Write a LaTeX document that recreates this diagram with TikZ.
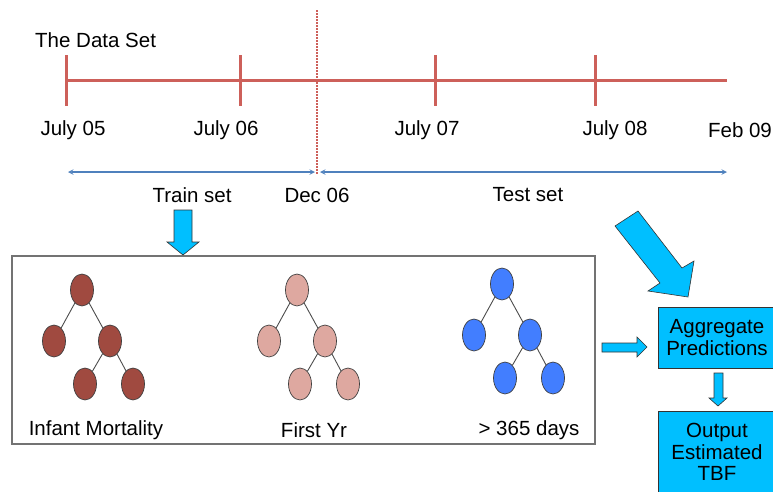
\documentclass[tikz,border=0pt]{standalone}
\usepackage{fontspec}
\setmainfont{Liberation Sans}
\usetikzlibrary{shapes.geometric}

\definecolor{tlred}{RGB}{205,96,90}
\definecolor{spanblue}{RGB}{79,129,189}
\definecolor{boxcyan}{RGB}{0,191,255}
\definecolor{treeA}{RGB}{160,74,64}
\definecolor{treeB}{RGB}{222,168,160}
\definecolor{treeC}{RGB}{66,126,255}

\begin{document}
\begin{tikzpicture}[x=1pt,y=-1pt,>=stealth,font=\fontsize{20.5}{21.5}\selectfont,
  every node/.style={inner sep=0pt},
  timeline/.style={tlred,line width=3pt},
  span/.style={spanblue,line width=1.4pt,<->},
  leaf/.style={ellipse,draw=black!75,line width=0.7pt,minimum width=23,minimum height=32},
  edge/.style={black!70,line width=0.9pt},
  blockarr/.style={fill=boxcyan,draw=black!80,line width=0.6pt},
  outbox/.style={fill=boxcyan,draw=black!80,line width=0.8pt,align=center,minimum width=118}]
\useasboundingbox (0,0) rectangle (773,491);

% time axis with year ticks
\coordinate (t0) at (66,80); \coordinate (t1) at (240,80); \coordinate (t2) at (435,80);
\coordinate (t3) at (595,80); \coordinate (tend) at (727,80);
\draw[timeline] (t0) -- (tend);
\foreach \t in {t0,t1,t2,t3} \draw[timeline] ([yshift=25pt]\t) -- ([yshift=-26pt]\t);
\coordinate (cut) at (317,10); \coordinate (cutb) at (317,174);
\draw[tlred,line width=1.3pt,dash pattern=on 1.5pt off 1.5pt] (cut) -- (cutb);

\node[anchor=west] (title) at (35,40) {The Data Set};
\node (d0) at (73,130) {July 05}; \node (d1) at (226,130) {July 06};
\node (d2) at (427,130) {July 07}; \node (d3) at (615,130) {July 08};
\node (d4) at (740,130) {Feb 09};

% train / test split
\coordinate (s0) at (68,172); \coordinate (s1) at (315,172);
\coordinate (s2) at (320,172); \coordinate (s3) at (727,172);
\draw[span] (s0) -- (s1);
\draw[span] (s2) -- (s3);
\node (train) at (192,195) {Train set}; \node (dec) at (317,195) {Dec 06};
\node (test) at (528,195) {Test set};

% the three models
\node[draw=black!55,line width=1.2pt,minimum width=583,minimum height=188] (models) at (303.5,350) {};
\foreach \n/\x/\y/\c in {a/82/290/treeA,b/297/290/treeB,c/502/284/treeC}{
  \node[leaf,fill=\c] (\n0) at (\x,\y) {};
  \node[leaf,fill=\c] (\n1) at ([shift={(-28,51)}]\n0) {};
  \node[leaf,fill=\c] (\n2) at ([shift={(28,51)}]\n0) {};
  \node[leaf,fill=\c] (\n3) at ([shift={(3,94)}]\n0) {};
  \node[leaf,fill=\c] (\n4) at ([shift={(51,94)}]\n0) {};
  \draw[edge] (\n0) -- (\n1) (\n0) -- (\n2) (\n2) -- (\n3) (\n2) -- (\n4);
}
\node (la) at (96,430) {Infant Mortality}; \node (lb) at (314,430) {First Yr};
\node (lc) at (529,430) {> 365 days};

% aggregation
\node[outbox,minimum height=61] (agg) at (717,337.5) {Aggregate\\Predictions};
\node[outbox,minimum height=82] (out) at (717,452) {Output\\Estimated\\TBF};

% block arrows
\filldraw[blockarr] (174,210) -- (192,210) -- (192,242) -- (199,242) -- (183,255) -- (167,242) -- (174,242) -- cycle;
\filldraw[blockarr] (615,226) -- (638,211) -- (682,268) -- (694,261) -- (688,297) -- (648,291) -- (660,283) -- cycle;
\filldraw[blockarr] (602,343) -- (637,343) -- (637,337) -- (647,347) -- (637,357) -- (637,352) -- (602,352) -- cycle;
\filldraw[blockarr] (714,373) -- (723,373) -- (723,398) -- (727,398) -- (718,406) -- (709,398) -- (714,398) -- cycle;
\end{tikzpicture}
\end{document}
